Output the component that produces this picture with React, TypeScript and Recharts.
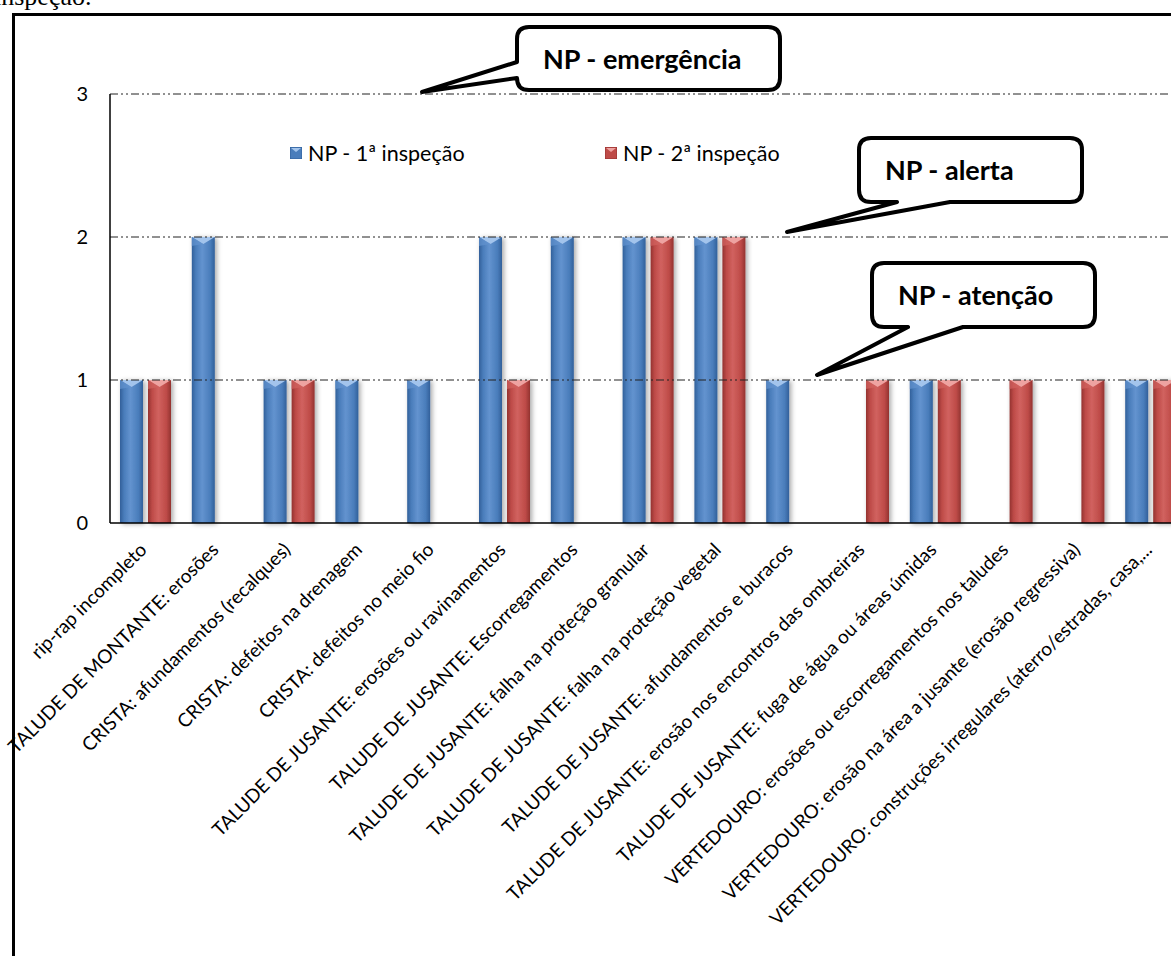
import { BarChart, Bar, XAxis, YAxis, ReferenceLine } from "recharts";

// categorias avaliadas na inspeção
const categories = [
  "rip-rap incompleto",
  "TALUDE DE MONTANTE: erosões",
  "CRISTA: afundamentos (recalques)",
  "CRISTA: defeitos na drenagem",
  "CRISTA: defeitos no meio fio",
  "TALUDE DE JUSANTE: erosões ou ravinamentos",
  "TALUDE DE JUSANTE: Escorregamentos",
  "TALUDE DE JUSANTE: falha na proteção granular",
  "TALUDE DE JUSANTE: falha na proteção vegetal",
  "TALUDE DE JUSANTE: afundamentos e buracos",
  "TALUDE DE JUSANTE: erosão nos encontros das ombreiras",
  "TALUDE DE JUSANTE: fuga de água ou áreas úmidas",
  "VERTEDOURO: erosões ou escorregamentos nos taludes",
  "VERTEDOURO: erosão na área a jusante (erosão regressiva)",
  "VERTEDOURO: construções irregulares (aterro/estradas, casa,...",
];

const firstInspection = [1, 2, 1, 1, 1, 2, 2, 2, 2, 1, 0, 1, 0, 0, 1];
const secondInspection = [1, 0, 1, 0, 0, 1, 0, 2, 2, 0, 1, 1, 1, 1, 1];

const seriesNames = ["NP - 1ª inspeção", "NP - 2ª inspeção"];

const yTicks = [0, 1, 2, 3];

// níveis de pontuação (NP)
const levelValues = [3, 2, 1];
const levelNames = ["NP - emergência", "NP - alerta", "NP - atenção"];

const data = categories.map((name, i) => ({
  name,
  first: firstInspection[i],
  second: secondInspection[i],
}));

const FONT = "Lato, 'Open Sans', sans-serif";

const TONES = {
  blue: { edge: "#31609a", mid: "#4a7dbb", hi: "#6393cf", cap: "#a3c4ec" },
  red: { edge: "#933330", mid: "#be4b48", hi: "#d1625f", cap: "#eea3a1" },
};

// geometria dos balões, relativa ao ponto inicial da linha de referência
const CALLOUTS = {
  "NP - emergência": { tip: [312, -2], box: [407, -67, 263, 63], tail: "left", base: [-32, -16] },
  "NP - alerta": { tip: [677, -5], box: [749, -99, 223, 64], tail: "bottom", base: [787, 840] },
  "NP - atenção": { tip: [707, -5], box: [762, -117, 223, 64], tail: "bottom", base: [798, 853] },
};

const calloutPath = (spec, ox, oy) => {
  const [bx, by, bw, bh] = spec.box;
  const x0 = ox + bx;
  const y0 = oy + by;
  const x1 = x0 + bw;
  const y1 = y0 + bh;
  const r = 12;
  const tx = ox + spec.tip[0];
  const ty = oy + spec.tip[1];
  let p = `M${x0 + r},${y0} H${x1 - r} Q${x1},${y0} ${x1},${y0 + r} V${y1 - r} Q${x1},${y1} ${x1 - r},${y1}`;
  if (spec.tail === "bottom") {
    p += ` H${ox + spec.base[1]} L${tx},${ty} L${ox + spec.base[0]},${y1}`;
  }
  p += ` H${x0 + r} Q${x0},${y1} ${x0},${y1 - r}`;
  if (spec.tail === "left") {
    p += ` V${oy + spec.base[1]} L${tx},${ty} L${x0},${oy + spec.base[0]}`;
  }
  p += ` V${y0 + r} Q${x0},${y0} ${x0 + r},${y0} Z`;
  return p;
};

const Callout = ({ viewBox, text }) => {
  const spec = CALLOUTS[text];
  if (!spec || !viewBox) return null;
  const { x, y } = viewBox;
  const [bx, by, , bh] = spec.box;
  return (
    <g>
      <path
        d={calloutPath(spec, x, y)}
        fill="#fff"
        stroke="#000"
        strokeWidth={4}
        strokeLinejoin="round"
      />
      <text
        x={x + bx + 26}
        y={y + by + bh / 2 + 10}
        fontFamily={FONT}
        fontWeight="bold"
        fontSize={27}
        fill="#000"
      >
        {text}
      </text>
    </g>
  );
};

const GlossyBar = (props) => {
  const { x, y, width, height, tone } = props;
  if (!height || height <= 0) return null;
  const c = TONES[tone];
  const capDepth = 7;
  return (
    <g filter="url(#barShadow)">
      <rect x={x} y={y} width={width} height={height} fill={`url(#grad-${tone})`} />
      <polygon
        points={`${x},${y} ${x + width},${y} ${x + width / 2},${y + capDepth}`}
        fill={c.cap}
      />
      <polygon
        points={`${x},${y} ${x + width / 2},${y + capDepth} ${x},${y + capDepth + 2}`}
        fill={c.hi}
        opacity={0.7}
      />
    </g>
  );
};

const RotatedTick = ({ x, y, payload }) => (
  <g transform={`translate(${x + 2},${y + 20})`}>
    <text
      transform="rotate(-45)"
      textAnchor="end"
      fontFamily={FONT}
      fontSize={19}
      fill="#000"
    >
      {payload.value}
    </text>
  </g>
);

const LegendSwatch = ({ tone }) => {
  const c = TONES[tone];
  return (
    <svg width={12} height={12} style={{ marginRight: 6 }}>
      <rect x={0} y={0} width={12} height={12} fill={c.mid} stroke={c.edge} />
      <polygon points="1,1 11,1 6,5" fill={c.cap} />
    </svg>
  );
};

export default function App() {
  const tones = ["blue", "red"];
  const legendLeft = [290, 605];
  return (
    <div
      style={{
        position: "absolute",
        left: 0,
        top: 0,
        width: 1171,
        height: 956,
        overflow: "hidden",
        background: "#fff",
      }}
    >
      <div
        style={{
          position: "absolute",
          left: -6,
          top: -18,
          fontFamily: "'Liberation Serif', serif",
          fontSize: 26,
          color: "#000",
        }}
      >
        inspeção.
      </div>
      <div
        style={{
          position: "absolute",
          left: 12,
          top: 13,
          width: 1250,
          height: 1000,
          border: "3px solid #000",
        }}
      />
      <div style={{ position: "absolute", left: 0, top: 0 }}>
        <BarChart
          width={1200}
          height={956}
          data={data}
          margin={{ top: 94, right: 13, bottom: 33, left: 50 }}
          barGap={5}
        >
          <defs>
            {tones.map((t) => (
              <linearGradient key={t} id={`grad-${t}`} x1="0" y1="0" x2="1" y2="0">
                <stop offset="0%" stopColor={TONES[t].edge} />
                <stop offset="18%" stopColor={TONES[t].mid} />
                <stop offset="45%" stopColor={TONES[t].hi} />
                <stop offset="80%" stopColor={TONES[t].mid} />
                <stop offset="100%" stopColor={TONES[t].edge} />
              </linearGradient>
            ))}
            <filter id="barShadow" x="-50%" y="-10%" width="200%" height="120%">
              <feDropShadow dx="2" dy="1" stdDeviation="2.5" floodColor="#000" floodOpacity="0.35" />
            </filter>
          </defs>
          {levelValues.map((v, i) => (
            <ReferenceLine
              key={v}
              y={v}
              stroke="#222"
              strokeWidth={1}
              strokeDasharray="8 3 2 3 2 3"
              label={<Callout text={levelNames[i]} />}
            />
          ))}
          <XAxis
            dataKey="name"
            interval={0}
            height={400}
            tickLine={false}
            axisLine={{ stroke: "#000", strokeWidth: 1.5 }}
            tick={<RotatedTick />}
          />
          <YAxis
            width={60}
            domain={[0, 3]}
            ticks={yTicks}
            tickLine={false}
            tickSize={0}
            tickMargin={22}
            axisLine={{ stroke: "#000", strokeWidth: 1.5 }}
            tick={{ fontFamily: FONT, fontSize: 20, fill: "#000" }}
          />
          <Bar
            dataKey="first"
            name={seriesNames[0]}
            barSize={23}
            isAnimationActive={false}
            shape={<GlossyBar tone="blue" />}
          />
          <Bar
            dataKey="second"
            name={seriesNames[1]}
            barSize={23}
            isAnimationActive={false}
            shape={<GlossyBar tone="red" />}
          />
        </BarChart>
      </div>
      {seriesNames.map((n, i) => (
        <div
          key={n}
          style={{
            position: "absolute",
            left: legendLeft[i],
            top: 140,
            display: "flex",
            alignItems: "center",
            fontFamily: FONT,
            fontSize: 21.5,
            color: "#000",
          }}
        >
          <LegendSwatch tone={tones[i]} />
          {n}
        </div>
      ))}
    </div>
  );
}
